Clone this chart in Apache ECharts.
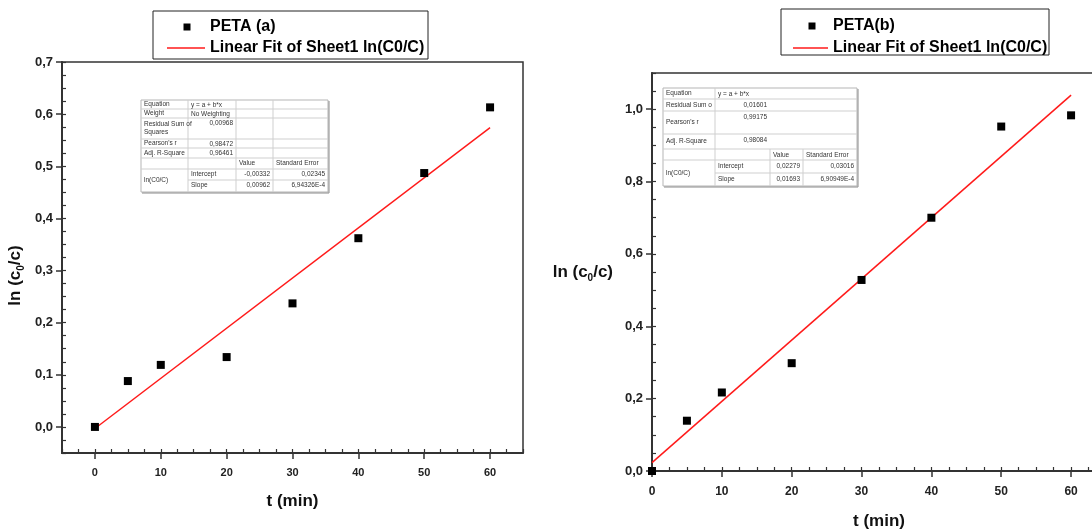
<!DOCTYPE html>
<html>
<head>
<meta charset="utf-8">
<script src="https://cdn.jsdelivr.net/npm/echarts@6/dist/echarts.min.js"></script>
<style>
html,body{margin:0;padding:0;background:#fff;overflow:hidden;}
#chart{width:1092px;height:531px;}
</style>
</head>
<body>
<div id="chart"></div>
<script>
// ---------- data ----------
const T_A = [0, 5, 10, 20, 30, 40, 50, 60];
const LN_A = [0.000, 0.088, 0.119, 0.134, 0.237, 0.362, 0.487, 0.613];
const FIT_T_A = [0, 60];
const FIT_LN_A = [-0.003, 0.574];

const T_B = [0, 5, 10, 20, 30, 40, 50, 60];
const LN_B = [0.000, 0.139, 0.217, 0.298, 0.528, 0.700, 0.952, 0.983];
const FIT_T_B = [0, 60];
const FIT_LN_B = [0.023, 1.039];

const X_TICKS = [0, 10, 20, 30, 40, 50, 60];
const Y_TICKS_A = [0, 0.1, 0.2, 0.3, 0.4, 0.5, 0.6, 0.7];
const Y_TICKS_B = [0, 0.2, 0.4, 0.6, 0.8, 1.0];

const SERIES_A = 'PETA (a)';
const SERIES_B = 'PETA(b)';
const FIT_NAME = 'Linear Fit of Sheet1 ln(C0/C)';
const X_TITLE = 't (min)';

const TABLE_A = [
  ['Equation', 'y = a + b*x', '', ''],
  ['Weight', 'No Weighting', '', ''],
  ['Residual Sum of\nSquares', '0,00968', '', ''],
  ["Pearson's r", '0,98472', '', ''],
  ['Adj. R-Square', '0,96461', '', ''],
  ['', '', 'Value', 'Standard Error'],
  ['ln(C0/C)', 'Intercept', '-0,00332', '0,02345'],
  ['', 'Slope', '0,00962', '6,94326E-4']
];
const TABLE_B = [
  ['Equation', 'y = a + b*x', '', ''],
  ['Residual Sum o', '0,01601', '', ''],
  ["Pearson's r", '0,99175', '', ''],
  ['Adj. R-Square', '0,98084', '', ''],
  ['', '', 'Value', 'Standard Error'],
  ['ln(C0/C)', 'Intercept', '0,02279', '0,03016'],
  ['', 'Slope', '0,01693', '6,90949E-4']
];

// ---------- helpers ----------
const FONT = '"Liberation Sans", Arial, sans-serif';
const comma = (d) => (v) => v.toFixed(d).replace('.', ',');
const pairs = (xs, ys) => xs.map((x, i) => [x, ys[i]]);

function buildTable(rows, L) {
  const els = [];
  const xs = L.xs, ys = L.ys;
  const x0 = xs[0], x1 = xs[xs.length - 1], y0 = ys[0], y1 = ys[ys.length - 1];
  els.push({type: 'rect', shape: {x: x0, y: y0, width: x1 - x0, height: y1 - y0},
    style: {fill: '#fff', stroke: '#b5b5b5', lineWidth: 1}, z: 10});
  els.push({type: 'line', shape: {x1: x1 + 1, y1: y0 + 1, x2: x1 + 1, y2: y1 + 1},
    style: {stroke: '#8a8a8a', lineWidth: 1}, z: 10});
  els.push({type: 'line', shape: {x1: x0 + 1, y1: y1 + 1, x2: x1 + 1, y2: y1 + 1},
    style: {stroke: '#8a8a8a', lineWidth: 1}, z: 10});
  for (let i = 1; i < ys.length - 1; i++) {
    const sx = (i === ys.length - 2) ? xs[1] : x0;
    els.push({type: 'line', shape: {x1: sx, y1: ys[i], x2: x1, y2: ys[i]},
      style: {stroke: '#cfcfcf', lineWidth: 1}, z: 10});
  }
  els.push({type: 'line', shape: {x1: xs[1], y1: y0, x2: xs[1], y2: y1},
    style: {stroke: '#cfcfcf', lineWidth: 1}, z: 10});
  for (let c = 2; c < xs.length - 1; c++) {
    els.push({type: 'line', shape: {x1: xs[c], y1: ys[L.vFrom], x2: xs[c], y2: y1},
      style: {stroke: '#cfcfcf', lineWidth: 1}, z: 10});
  }
  rows.forEach((row, r) => row.forEach((t, c) => {
    if (!t) return;
    const numeric = /^-?[\d,]+(E-?\d+)?$/.test(t);
    const top = ys[r];
    const bottom = (c === 0 && r === rows.length - 2) ? ys[r + 2] : ys[r + 1];
    const x = numeric ? xs[c + 1] - 3 : xs[c] + 3;
    const y = c === 0 ? (top + bottom) / 2 : top + L.pad;
    els.push({type: 'text', x: x, y: y, z: 11,
      style: {text: t, fill: '#333', font: '6.5px ' + FONT, lineHeight: 8,
        textAlign: numeric ? 'right' : 'left',
        textVerticalAlign: c === 0 ? 'middle' : 'top'}});
  }));
  return els;
}

function buildLegend(L, name1) {
  return [
    {type: 'rect', shape: {x: L.x, y: L.y, width: L.w, height: L.h},
      style: {fill: '#fff', stroke: '#222', lineWidth: 1}, z: 10},
    {type: 'rect', shape: {x: L.mx - 3.5, y: L.y1 - 3.5, width: 7, height: 7},
      style: {fill: '#000'}, z: 11},
    {type: 'text', x: L.tx, y: L.y1, z: 11,
      style: {text: name1, fill: '#000', font: 'bold 16px ' + FONT, textAlign: 'left', textVerticalAlign: 'middle'}},
    {type: 'line', shape: {x1: L.lx1, y1: L.y2, x2: L.lx2, y2: L.y2},
      style: {stroke: '#ff1a1a', lineWidth: 1.5}, z: 11},
    {type: 'text', x: L.tx, y: L.y2, z: 11,
      style: {text: FIT_NAME, fill: '#000', font: 'bold 16px ' + FONT, textAlign: 'left', textVerticalAlign: 'middle'}}
  ];
}

const axisLineStyle = {color: '#333', width: 2};
const yNameRich = {
  a: {fontSize: 17, fontWeight: 'bold', fontFamily: FONT, color: '#111', lineHeight: 22},
  s: {fontSize: 10, fontWeight: 'bold', fontFamily: FONT, color: '#111', lineHeight: 10, verticalAlign: 'bottom'}
};
const yName = '{a|ln (c}{s|0}{a|/c)}';

function mainX(gi, min, max, fs, margin, gap) {
  return {
    gridIndex: gi, type: 'value', min: min, max: max, position: 'bottom',
    axisLine: {show: true, onZero: false, lineStyle: axisLineStyle},
    axisTick: {show: true, inside: false, length: 6, customValues: X_TICKS, lineStyle: {color: '#333', width: 1.5}},
    axisLabel: {customValues: X_TICKS, formatter: (v) => String(v), fontSize: fs, fontWeight: 'bold',
      fontFamily: FONT, color: '#222', margin: margin},
    splitLine: {show: false},
    name: X_TITLE, nameLocation: 'middle', nameGap: gap,
    nameTextStyle: {fontSize: 17, fontWeight: 'bold', fontFamily: FONT, color: '#111'}
  };
}
function minorX(gi, min, max, step) {
  return {
    gridIndex: gi, type: 'value', min: min, max: max, interval: step, position: 'bottom',
    axisLine: {show: false, onZero: false}, axisLabel: {show: false}, splitLine: {show: false},
    axisTick: {show: true, inside: true, length: 4, lineStyle: {color: '#333', width: 1.2}}
  };
}
function mainY(gi, min, max, ticks, extra) {
  return Object.assign({
    gridIndex: gi, type: 'value', min: min, max: max, position: 'left',
    axisLine: {show: true, onZero: false, lineStyle: axisLineStyle},
    axisTick: {show: true, inside: false, length: 6, customValues: ticks, lineStyle: {color: '#333', width: 1.5}},
    axisLabel: {customValues: ticks, formatter: comma(1), fontSize: 13, fontWeight: 'bold',
      fontFamily: FONT, color: '#222', margin: 9},
    splitLine: {show: false}
  }, extra);
}
function minorY(gi, min, max, step) {
  return {
    gridIndex: gi, type: 'value', min: min, max: max, interval: step, position: 'left',
    axisLine: {show: false, onZero: false}, axisLabel: {show: false}, splitLine: {show: false},
    axisTick: {show: true, inside: true, length: 4, lineStyle: {color: '#333', width: 1.2}}
  };
}

const chart = echarts.init(document.getElementById('chart'), null, {renderer: 'canvas'});

const option = {
  backgroundColor: '#ffffff',
  animation: false,
  grid: [
    {left: 62, top: 62, right: 569, bottom: 78, show: true, borderColor: '#333', borderWidth: 1.5,
      backgroundColor: 'transparent', outerBoundsMode: 'none', containLabel: false},
    {left: 652, top: 73, width: 454, bottom: 60, show: true, borderColor: '#333', borderWidth: 1.5,
      backgroundColor: 'transparent', outerBoundsMode: 'none', containLabel: false}
  ],
  xAxis: [
    mainX(0, -5, 65, 11, 14, 40),
    minorX(0, -5, 65, 2.5),
    mainX(1, 0, 65, 12, 15, 42),
    minorX(1, 0, 65, 2.5)
  ],
  yAxis: [
    mainY(0, -0.05, 0.7, Y_TICKS_A, {
      name: yName, nameLocation: 'middle', nameGap: 36, nameRotate: 90,
      nameTextStyle: {rich: yNameRich, padding: [0, 36, 0, 0]}
    }),
    minorY(0, -0.05, 0.7, 0.025),
    mainY(1, 0, 1.1, Y_TICKS_B, {
      name: yName, nameLocation: 'middle', nameGap: 39, nameRotate: 0,
      nameTextStyle: {rich: yNameRich}
    }),
    minorY(1, 0, 1.1, 0.05)
  ],
  series: [
    {name: FIT_NAME, type: 'line', xAxisIndex: 0, yAxisIndex: 0, data: pairs(FIT_T_A, FIT_LN_A),
      symbol: 'none', lineStyle: {color: '#ff1a1a', width: 1.5}, z: 3},
    {name: SERIES_A, type: 'scatter', xAxisIndex: 0, yAxisIndex: 0, data: pairs(T_A, LN_A),
      symbol: 'rect', symbolSize: 8, itemStyle: {color: '#000', opacity: 1}, z: 4},
    {name: FIT_NAME, type: 'line', xAxisIndex: 2, yAxisIndex: 2, data: pairs(FIT_T_B, FIT_LN_B),
      symbol: 'none', lineStyle: {color: '#ff1a1a', width: 1.5}, z: 3},
    {name: SERIES_B, type: 'scatter', xAxisIndex: 2, yAxisIndex: 2, data: pairs(T_B, LN_B),
      symbol: 'rect', symbolSize: 8, itemStyle: {color: '#000', opacity: 1}, z: 4}
  ],
  graphic: {
    elements: [].concat(
      buildTable(TABLE_A, {xs: [141, 188, 236, 273, 328], ys: [100, 109, 118, 139, 148, 158, 169, 180, 192], vFrom: 0, pad: 1}),
      buildTable(TABLE_B, {xs: [663, 715, 770, 803, 857], ys: [88, 99, 111, 134, 149, 160, 173, 186], vFrom: 4, pad: 2}),
      buildLegend({x: 153, y: 11, w: 275, h: 48, mx: 187, y1: 27, tx: 210, lx1: 167, lx2: 205, y2: 48}, SERIES_A),
      buildLegend({x: 781, y: 9, w: 268, h: 46, mx: 812, y1: 26, tx: 833, lx1: 793, lx2: 828, y2: 48}, SERIES_B)
    )
  }
};
chart.setOption(option);
</script>
</body>
</html>
